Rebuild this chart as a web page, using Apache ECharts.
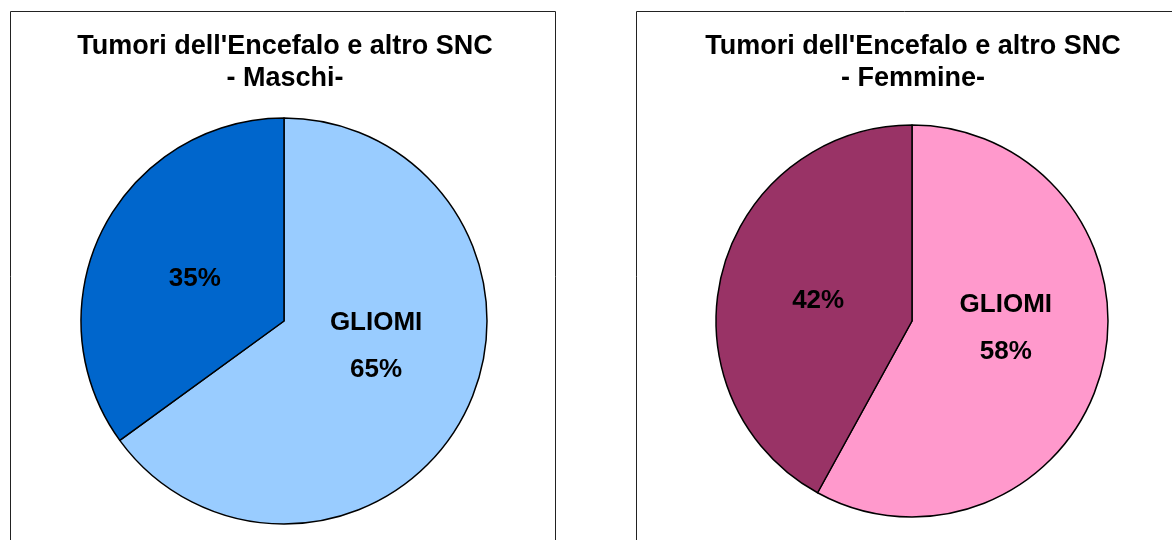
<!DOCTYPE html>
<html>
<head>
<meta charset="utf-8">
<script src="https://cdn.jsdelivr.net/npm/echarts@6/dist/echarts.min.js"></script>
<style>
  html, body { margin: 0; padding: 0; background: #fff; }
  #main { width: 1172px; height: 540px; }
</style>
</head>
<body>
<div id="main"></div>
<script>
// dati
var titoloComune = "Tumori dell'Encefalo e altro SNC";
var sottotitoli = ['- Maschi-', '- Femmine-'];
var categorie = ['GLIOMI', 'Altri'];
var valoriMaschi = [65, 35];
var valoriFemmine = [58, 42];
var coloriMaschi = ['#99CCFF', '#0066CC'];
var coloriFemmine = ['#FF99CC', '#993366'];

var myChart = echarts.init(document.getElementById('main'));
var FONT = 'Liberation Sans, Arial, sans-serif';

function buildData(valori, colori) {
	return valori.map(function(v, i) {
		return {
			name: categorie[i],
			value: v,
			itemStyle: { color: colori[i] }
		};
	});
}

function labelFmt(p) {
	if (p.dataIndex === 0) {
		return p.name + '\n' + p.value + '%';
	}
	return p.value + '%';
}

// shifts: piccoli aggiustamenti delle etichette
function pieSeries(center, radius, valori, colori, shifts) {
	return {
		type: 'pie',
		center: center,
		radius: radius,
		startAngle: 90,
		clockwise: true,
		animation: false,
		silent: true,
		itemStyle: { borderColor: '#000', borderWidth: 1.5 },
		label: {
			show: true,
			position: 'inside',
			formatter: labelFmt,
			color: '#000',
			fontFamily: FONT,
			fontWeight: 'bold',
			fontSize: 26,
			lineHeight: 47
		},
		labelLayout: function(params) {
			return shifts[params.dataIndex];
		},
		data: buildData(valori, colori)
	};
}

function titolo(x, sub) {
	return {
		type: 'text',
		x: x,
		y: 31,
		silent: true,
		style: {
			text: titoloComune + '\n' + sub,
			textAlign: 'center',
			fill: '#000',
			fontFamily: FONT,
			fontWeight: 'bold',
			fontSize: 27,
			lineHeight: 32
		}
	};
}

var option = {
	backgroundColor: '#fff',
	graphic: [
		{ type: 'rect', shape: { x: 10.5, y: 11.5, width: 545, height: 560 },
			style: { fill: 'none', stroke: '#222', lineWidth: 1 }, silent: true },
		{ type: 'rect', shape: { x: 636.5, y: 11.5, width: 560, height: 560 },
			style: { fill: 'none', stroke: '#222', lineWidth: 1 }, silent: true },
		titolo(285, sottotitoli[0]),
		titolo(913, sottotitoli[1])
	],
	series: [
		pieSeries([284, 321], 203, valoriMaschi, coloriMaschi,
			[{ dx: -1, dy: -22 }, { dx: 4, dy: 5 }]),
		pieSeries([912, 321], 196, valoriFemmine, coloriFemmine,
			[{ dx: -4, dy: -18 }, { dx: 4, dy: 5 }])
	]
};
myChart.setOption(option);
</script>
</body>
</html>
